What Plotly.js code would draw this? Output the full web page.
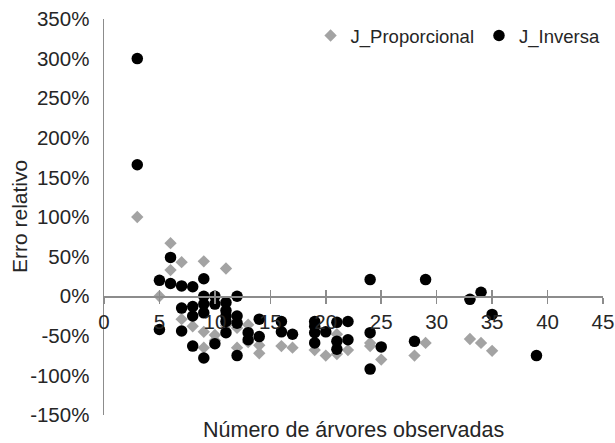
<!DOCTYPE html>
<html>
<head>
<meta charset="utf-8">
<script src="https://cdn.plot.ly/plotly-3.0.1.min.js"></script>
<style>html,body{margin:0;padding:0;background:#fff;}#chart{width:615px;height:443px;}</style>
</head>
<body>
<div id="chart"></div>
<script>
// J_Proporcional (grey diamonds)
var propX = [3, 5, 6, 6, 7, 7, 8, 9, 9, 9, 10, 10, 11, 11, 12, 12, 13, 13, 14, 14, 16, 17, 19, 20, 21, 21, 22, 24, 24, 25, 28, 29, 33, 34, 35];
var propY = [100, 0, 67, 33, 43, -29, -38, 44, -45, -65, -49, -56, 35, -37, -40, -65, -36, -58, -72, -62, -63, -65, -68, -75, -73, -48, -68, -59, -63, -80, -75, -59, -54, -59, -69];

// J_Inversa (black circles)
var invX = [3, 3, 5, 5, 6, 6, 7, 7, 7, 8, 8, 8, 8, 9, 9, 9, 9, 9, 10, 10, 10, 11, 11, 11, 11, 11, 12, 12, 12, 12, 13, 13, 14, 14, 16, 16, 17, 19, 19, 19, 19, 20, 21, 21, 21, 22, 22, 24, 24, 24, 25, 28, 29, 33, 34, 35, 39];
var invY = [300, 166, 20, -42, 49, 16, 13, -15, -44, 12, -13, -25, -63, 22, 0, -10, -21, -78, 0, -10, -60, -8, -18, -25, -32, -46, 0, -25, -34, -75, -46, -55, -29, -51, -32, -45, -48, -32, -38, -46, -59, -45, -33, -57, -67, -32, -55, 21, -46, -92, -64, -57, 21, -4, 5, -23, -75];

var xTicks = [0, 5, 10, 15, 20, 25, 30, 35, 40, 45];
var yTicks = [-150, -100, -50, 0, 50, 100, 150, 200, 250, 300, 350];

var textColor = '#262626';
var axisColor = '#8c8c8c';
var fontFam = 'Liberation Sans, Arial, sans-serif';

var traces = [
  {
    x: propX, y: propY, type: 'scatter', mode: 'markers', name: 'J_Proporcional',
    marker: {symbol: 'diamond', size: 9.5, color: '#a3a3a3', line: {width: 0}}
  },
  {
    x: invX, y: invY, type: 'scatter', mode: 'markers', name: 'J_Inversa',
    marker: {symbol: 'circle', size: 11.5, color: '#000000', line: {width: 0}}
  }
];

var zeroPos = (0 - (-150)) / (350 - (-150));

var layout = {
  width: 615, height: 443,
  margin: {l: 104, r: 12, t: 19, b: 28, pad: 0, autoexpand: false},
  paper_bgcolor: '#ffffff', plot_bgcolor: '#ffffff',
  font: {family: fontFam, color: textColor, size: 19},
  showlegend: true,
  legend: {
    orientation: 'h', x: 0.414, xanchor: 'left', y: 0.957, yanchor: 'middle',
    font: {family: fontFam, size: 18.5, color: textColor},
    bgcolor: 'rgba(0,0,0,0)', itemwidth: 30, borderwidth: 0
  },
  xaxis: {
    range: [0, 45], tickvals: xTicks, ticktext: xTicks.map(String),
    anchor: 'free', position: zeroPos, automargin: false,
    showline: true, linecolor: axisColor, linewidth: 1.5,
    ticks: 'outside', ticklen: 6, tickwidth: 1.5, tickcolor: axisColor,
    showgrid: false, zeroline: false,
    tickfont: {family: fontFam, size: 20.5, color: textColor},
    ticklabelstandoff: 1
  },
  xaxis2: {
    range: [0, 45], tickvals: xTicks, overlaying: 'x', automargin: false,
    anchor: 'free', position: zeroPos, side: 'bottom',
    showline: false, ticks: 'inside', ticklen: 6, tickwidth: 1.5, tickcolor: axisColor,
    showticklabels: false, showgrid: false, zeroline: false
  },
  yaxis: {
    range: [-150, 350], tickvals: yTicks, ticktext: yTicks.map(function(v){return v + '%';}),
    showline: true, linecolor: axisColor, linewidth: 1.5, automargin: false,
    ticks: '', showgrid: false, zeroline: false,
    tickfont: {family: fontFam, size: 20.5, color: textColor},
    ticklabelstandoff: 9
  },
  annotations: [
    {
      text: 'Número de árvores observadas', xref: 'paper', yref: 'paper',
      x: 0.5, xanchor: 'center', y: -0.038, yanchor: 'middle', showarrow: false,
      font: {family: fontFam, size: 21.5, color: textColor}
    },
    {
      text: 'Erro relativo', xref: 'paper', yref: 'paper', textangle: -90,
      x: (19 - 104) / 499, xanchor: 'center', y: 0.5, yanchor: 'middle', showarrow: false,
      font: {family: fontFam, size: 21, color: textColor}
    }
  ]
};

// invisible trace so the overlaying tick axis (crossing ticks) is drawn
traces.push({x: [0], y: [0], xaxis: 'x2', yaxis: 'y', type: 'scatter', mode: 'markers',
  marker: {opacity: 0}, showlegend: false, hoverinfo: 'skip'});

Plotly.newPlot('chart', traces, layout, {displayModeBar: false, staticPlot: true});
</script>
</body>
</html>
